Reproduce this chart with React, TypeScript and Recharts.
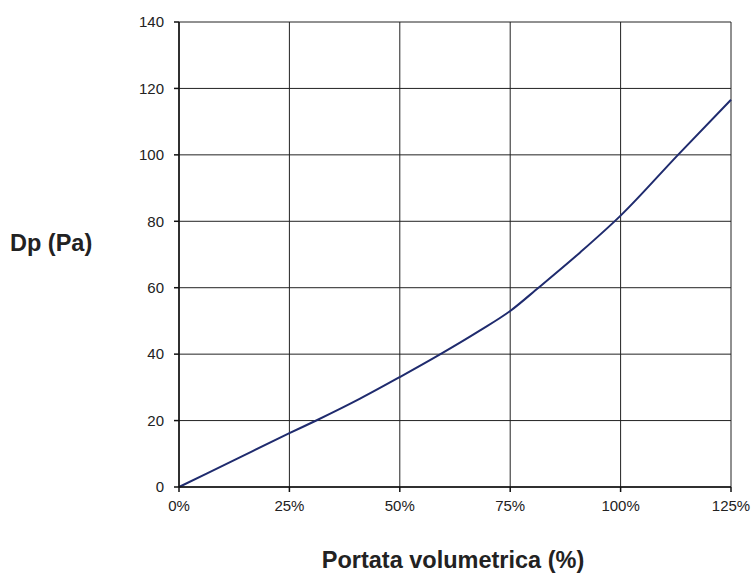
import { CartesianGrid, Line, LineChart, XAxis, YAxis } from "recharts";

// Portata volumetrica (%) vs Dp (Pa)
const flowPct = [0, 12.5, 25, 31.2, 41, 50, 59.2, 68, 75, 81.4, 90.9, 100, 113, 125];
const pressurePa = [0, 8.1, 16.2, 20.1, 26.6, 33.1, 40, 47, 53, 60, 70.7, 81.7, 100, 116.6];
const xTicks = [0, 25, 50, 75, 100, 125];
const yTicks = [0, 20, 40, 60, 80, 100, 120, 140];

const data = flowPct.map((x, i) => ({ x, dp: pressurePa[i] }));

const font = "'Liberation Sans', Arial, sans-serif";
const tickStyle = { fontSize: 15, fill: "#222", fontFamily: font };

export default function App() {
  return (
    <div style={{ position: "absolute", left: 0, top: 0, width: 753, height: 575, background: "#fff" }}>
      <LineChart
        width={753}
        height={575}
        data={data}
        margin={{ top: 22, right: 22, bottom: 58, left: 139 }}
      >
        <CartesianGrid stroke="#222" strokeWidth={1} />
        <XAxis
          dataKey="x"
          type="number"
          domain={[0, 125]}
          ticks={xTicks}
          tickFormatter={(v) => `${v}%`}
          tick={tickStyle}
          tickSize={5}
          tickMargin={8}
          stroke="#111"
          strokeWidth={1.5}
          height={30}
          interval={0}
        />
        <YAxis
          type="number"
          domain={[0, 140]}
          ticks={yTicks}
          tick={tickStyle}
          tickSize={5}
          tickMargin={10}
          stroke="#111"
          strokeWidth={1.5}
          width={40}
          interval={0}
        />
        <Line
          type="monotone"
          dataKey="dp"
          stroke="#1f2b6e"
          strokeWidth={2}
          dot={false}
          isAnimationActive={false}
        />
      </LineChart>
      <div
        style={{
          position: "absolute",
          left: 10,
          top: 230,
          fontFamily: font,
          fontWeight: "bold",
          fontSize: 23.5,
          color: "#222",
          whiteSpace: "nowrap",
        }}
      >
        Dp (Pa)
      </div>
      <div
        style={{
          position: "absolute",
          left: 0,
          width: 906,
          top: 547,
          textAlign: "center",
          fontFamily: font,
          fontWeight: "bold",
          fontSize: 23.5,
          color: "#222",
          whiteSpace: "nowrap",
        }}
      >
        Portata volumetrica (%)
      </div>
    </div>
  );
}
